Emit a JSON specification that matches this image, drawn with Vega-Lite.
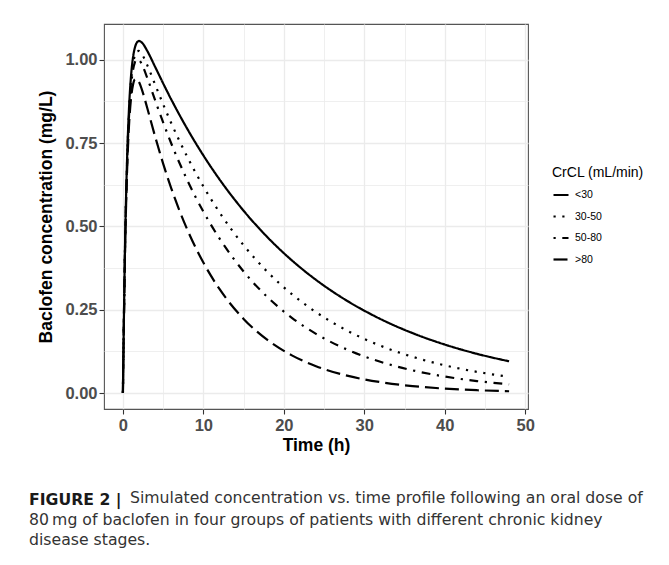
{
  "$schema": "https://vega.github.io/schema/vega-lite/v6.json",
  "padding": {"left": 28, "top": 23, "right": 2, "bottom": 2},
  "background": "white",
  "config": {
    "view": {"stroke": "#555555", "strokeWidth": 1.1},
    "font": "Liberation Sans"
  },
  "title": {
    "text": "Simulated concentration vs. time profile following an oral dose of",
    "orient": "bottom",
    "anchor": "start",
    "frame": "group",
    "dx": 26,
    "offset": -57,
    "font": "DejaVu Sans",
    "fontSize": 15.7,
    "fontWeight": "normal",
    "color": "#333333"
  },
  "vconcat": [
    {
      "width": 424,
      "height": 385,
      "data": {
        "values": [
          {"time": 0, "conc": 0, "CrCL": "<30"},
          {"time": 0.25, "conc": 0.4229, "CrCL": "<30"},
          {"time": 0.5, "conc": 0.6869, "CrCL": "<30"},
          {"time": 0.75, "conc": 0.8499, "CrCL": "<30"},
          {"time": 1, "conc": 0.9483, "CrCL": "<30"},
          {"time": 1.25, "conc": 1.0057, "CrCL": "<30"},
          {"time": 1.5, "conc": 1.0371, "CrCL": "<30"},
          {"time": 1.75, "conc": 1.0518, "CrCL": "<30"},
          {"time": 2, "conc": 1.0561, "CrCL": "<30"},
          {"time": 2.5, "conc": 1.0473, "CrCL": "<30"},
          {"time": 3, "conc": 1.0275, "CrCL": "<30"},
          {"time": 4, "conc": 0.9787, "CrCL": "<30"},
          {"time": 5, "conc": 0.929, "CrCL": "<30"},
          {"time": 6, "conc": 0.8811, "CrCL": "<30"},
          {"time": 8, "conc": 0.7925, "CrCL": "<30"},
          {"time": 10, "conc": 0.7128, "CrCL": "<30"},
          {"time": 12, "conc": 0.6411, "CrCL": "<30"},
          {"time": 15, "conc": 0.5469, "CrCL": "<30"},
          {"time": 18, "conc": 0.4665, "CrCL": "<30"},
          {"time": 21, "conc": 0.3979, "CrCL": "<30"},
          {"time": 24, "conc": 0.3394, "CrCL": "<30"},
          {"time": 28, "conc": 0.2746, "CrCL": "<30"},
          {"time": 32, "conc": 0.2221, "CrCL": "<30"},
          {"time": 36, "conc": 0.1797, "CrCL": "<30"},
          {"time": 40, "conc": 0.1454, "CrCL": "<30"},
          {"time": 44, "conc": 0.1176, "CrCL": "<30"},
          {"time": 48, "conc": 0.0951, "CrCL": "<30"},
          {"time": 0, "conc": 0, "CrCL": "30-50"},
          {"time": 0.25, "conc": 0.4188, "CrCL": "30-50"},
          {"time": 0.5, "conc": 0.6787, "CrCL": "30-50"},
          {"time": 0.75, "conc": 0.8378, "CrCL": "30-50"},
          {"time": 1, "conc": 0.9324, "CrCL": "30-50"},
          {"time": 1.25, "conc": 0.9861, "CrCL": "30-50"},
          {"time": 1.5, "conc": 1.0138, "CrCL": "30-50"},
          {"time": 1.75, "conc": 1.0251, "CrCL": "30-50"},
          {"time": 2, "conc": 1.0261, "CrCL": "30-50"},
          {"time": 2.5, "conc": 1.0108, "CrCL": "30-50"},
          {"time": 3, "conc": 0.985, "CrCL": "30-50"},
          {"time": 4, "conc": 0.9254, "CrCL": "30-50"},
          {"time": 5, "conc": 0.8662, "CrCL": "30-50"},
          {"time": 6, "conc": 0.8101, "CrCL": "30-50"},
          {"time": 8, "conc": 0.7085, "CrCL": "30-50"},
          {"time": 10, "conc": 0.6197, "CrCL": "30-50"},
          {"time": 12, "conc": 0.542, "CrCL": "30-50"},
          {"time": 15, "conc": 0.4433, "CrCL": "30-50"},
          {"time": 18, "conc": 0.3626, "CrCL": "30-50"},
          {"time": 21, "conc": 0.2965, "CrCL": "30-50"},
          {"time": 24, "conc": 0.2426, "CrCL": "30-50"},
          {"time": 28, "conc": 0.1855, "CrCL": "30-50"},
          {"time": 32, "conc": 0.1419, "CrCL": "30-50"},
          {"time": 36, "conc": 0.1086, "CrCL": "30-50"},
          {"time": 40, "conc": 0.083, "CrCL": "30-50"},
          {"time": 44, "conc": 0.0635, "CrCL": "30-50"},
          {"time": 48, "conc": 0.0486, "CrCL": "30-50"},
          {"time": 0, "conc": 0, "CrCL": "50-80"},
          {"time": 0.25, "conc": 0.4149, "CrCL": "50-80"},
          {"time": 0.5, "conc": 0.6711, "CrCL": "50-80"},
          {"time": 0.75, "conc": 0.8266, "CrCL": "50-80"},
          {"time": 1, "conc": 0.9177, "CrCL": "50-80"},
          {"time": 1.25, "conc": 0.9681, "CrCL": "50-80"},
          {"time": 1.5, "conc": 0.9927, "CrCL": "50-80"},
          {"time": 1.75, "conc": 1.0008, "CrCL": "50-80"},
          {"time": 2, "conc": 0.9989, "CrCL": "50-80"},
          {"time": 2.5, "conc": 0.978, "CrCL": "50-80"},
          {"time": 3, "conc": 0.9472, "CrCL": "50-80"},
          {"time": 4, "conc": 0.8785, "CrCL": "50-80"},
          {"time": 5, "conc": 0.8116, "CrCL": "50-80"},
          {"time": 6, "conc": 0.7493, "CrCL": "50-80"},
          {"time": 8, "conc": 0.6385, "CrCL": "50-80"},
          {"time": 10, "conc": 0.5441, "CrCL": "50-80"},
          {"time": 12, "conc": 0.4637, "CrCL": "50-80"},
          {"time": 15, "conc": 0.3647, "CrCL": "50-80"},
          {"time": 18, "conc": 0.2869, "CrCL": "50-80"},
          {"time": 21, "conc": 0.2257, "CrCL": "50-80"},
          {"time": 24, "conc": 0.1775, "CrCL": "50-80"},
          {"time": 28, "conc": 0.1289, "CrCL": "50-80"},
          {"time": 32, "conc": 0.0936, "CrCL": "50-80"},
          {"time": 36, "conc": 0.068, "CrCL": "50-80"},
          {"time": 40, "conc": 0.0494, "CrCL": "50-80"},
          {"time": 44, "conc": 0.0358, "CrCL": "50-80"},
          {"time": 48, "conc": 0.026, "CrCL": "50-80"},
          {"time": 0, "conc": 0, "CrCL": ">80"},
          {"time": 0.25, "conc": 0.4051, "CrCL": ">80"},
          {"time": 0.5, "conc": 0.6521, "CrCL": ">80"},
          {"time": 0.75, "conc": 0.7987, "CrCL": ">80"},
          {"time": 1, "conc": 0.8814, "CrCL": ">80"},
          {"time": 1.25, "conc": 0.9238, "CrCL": ">80"},
          {"time": 1.5, "conc": 0.9408, "CrCL": ">80"},
          {"time": 1.75, "conc": 0.9418, "CrCL": ">80"},
          {"time": 2, "conc": 0.933, "CrCL": ">80"},
          {"time": 2.5, "conc": 0.8995, "CrCL": ">80"},
          {"time": 3, "conc": 0.8573, "CrCL": ">80"},
          {"time": 4, "conc": 0.7697, "CrCL": ">80"},
          {"time": 5, "conc": 0.6882, "CrCL": ">80"},
          {"time": 6, "conc": 0.6147, "CrCL": ">80"},
          {"time": 8, "conc": 0.4904, "CrCL": ">80"},
          {"time": 10, "conc": 0.3912, "CrCL": ">80"},
          {"time": 12, "conc": 0.3121, "CrCL": ">80"},
          {"time": 15, "conc": 0.2223, "CrCL": ">80"},
          {"time": 18, "conc": 0.1584, "CrCL": ">80"},
          {"time": 21, "conc": 0.1129, "CrCL": ">80"},
          {"time": 24, "conc": 0.0804, "CrCL": ">80"},
          {"time": 28, "conc": 0.0512, "CrCL": ">80"},
          {"time": 32, "conc": 0.0326, "CrCL": ">80"},
          {"time": 36, "conc": 0.0207, "CrCL": ">80"},
          {"time": 40, "conc": 0.0132, "CrCL": ">80"},
          {"time": 44, "conc": 0.0084, "CrCL": ">80"},
          {"time": 48, "conc": 0.0053, "CrCL": ">80"}
        ]
      },
      "mark": {"type": "line", "color": "black", "strokeWidth": 2.2, "interpolate": "monotone", "strokeCap": "butt"},
      "encoding": {
        "x": {
          "field": "time",
          "type": "quantitative",
          "scale": {"domain": [-2.35, 50.35], "nice": false, "zero": false},
          "axis": {
            "title": "Time (h)",
            "values": [0, 5, 10, 15, 20, 25, 30, 35, 40, 45, 50],
            "format": "d",
            "labelExpr": "datum.value % 10 === 0 ? datum.label : ''",
            "labelFlush": false,
            "labelOverlap": false,
            "domain": false,
            "tickSize": 5,
            "tickWidth": 1.1,
            "tickColor": "#333333",
            "tickOpacity": {"condition": {"test": "datum.value % 10 !== 0", "value": 0}, "value": 1},
            "gridColor": "#EBEBEB",
            "gridWidth": {"condition": {"test": "datum.value % 10 !== 0", "value": 0.8}, "value": 1.3},
            "labelFont": "Liberation Sans",
            "labelFontSize": 16.5,
            "labelFontWeight": "bold",
            "labelColor": "#4D4D4D",
            "labelPadding": 3,
            "titleFont": "Liberation Sans",
            "titleFontSize": 17.5,
            "titleFontWeight": "bold",
            "titleColor": "#000000",
            "titlePadding": 3
          }
        },
        "y": {
          "field": "conc",
          "type": "quantitative",
          "scale": {"domain": [-0.048, 1.107], "nice": false, "zero": false},
          "axis": {
            "title": "Baclofen concentration (mg/L)",
            "values": [0, 0.125, 0.25, 0.375, 0.5, 0.625, 0.75, 0.875, 1],
            "format": ".2f",
            "labelExpr": "(datum.value * 4) % 1 === 0 ? datum.label : ''",
            "labelFlush": false,
            "labelOverlap": false,
            "domain": false,
            "tickSize": 5,
            "tickWidth": 1.1,
            "tickColor": "#333333",
            "tickOpacity": {"condition": {"test": "(datum.value * 4) % 1 !== 0", "value": 0}, "value": 1},
            "gridColor": "#EBEBEB",
            "gridWidth": {"condition": {"test": "(datum.value * 4) % 1 !== 0", "value": 0.8}, "value": 1.3},
            "labelFont": "Liberation Sans",
            "labelFontSize": 16.5,
            "labelFontWeight": "bold",
            "labelColor": "#4D4D4D",
            "labelPadding": 2,
            "titleFont": "Liberation Sans",
            "titleFontSize": 17.5,
            "titleFontWeight": "bold",
            "titleColor": "#000000",
            "titlePadding": 9
          }
        },
        "strokeDash": {
          "field": "CrCL",
          "type": "nominal",
          "scale": {
            "domain": ["<30", "30-50", "50-80", ">80"],
            "range": [[1, 0], [2.2, 6.6], [2.2, 6.6, 8.8, 6.6], [14, 6]]
          },
          "legend": {
            "title": "CrCL (mL/min)",
            "orient": "none",
            "legendX": 448,
            "legendY": 142,
            "titleFont": "Liberation Sans",
            "titleFontSize": 14,
            "titleFontWeight": "normal",
            "titleColor": "#000000",
            "titlePadding": 6,
            "labelFont": "Liberation Sans",
            "labelFontSize": 10.5,
            "labelColor": "#000000",
            "labelOffset": 5,
            "symbolType": "stroke",
            "symbolSize": 225,
            "symbolStrokeWidth": 2.2,
            "symbolStrokeColor": "#000000",
            "rowPadding": 6.5
          }
        }
      },
      "title": {
        "text": "FIGURE 2 |",
        "subtitle": [
          "80\u2009mg of baclofen in four groups of patients with different chronic kidney",
          "disease stages."
        ],
        "orient": "bottom",
        "anchor": "start",
        "frame": "group",
        "dx": -75,
        "offset": 39,
        "font": "DejaVu Sans",
        "fontSize": 15.7,
        "fontWeight": "bold",
        "color": "#1a1a1a",
        "subtitleFont": "DejaVu Sans",
        "subtitleFontSize": 15.7,
        "subtitleFontWeight": "normal",
        "subtitleColor": "#333333",
        "subtitleLineHeight": 19.5,
        "subtitlePadding": 4.3
      }
    }
  ]
}
